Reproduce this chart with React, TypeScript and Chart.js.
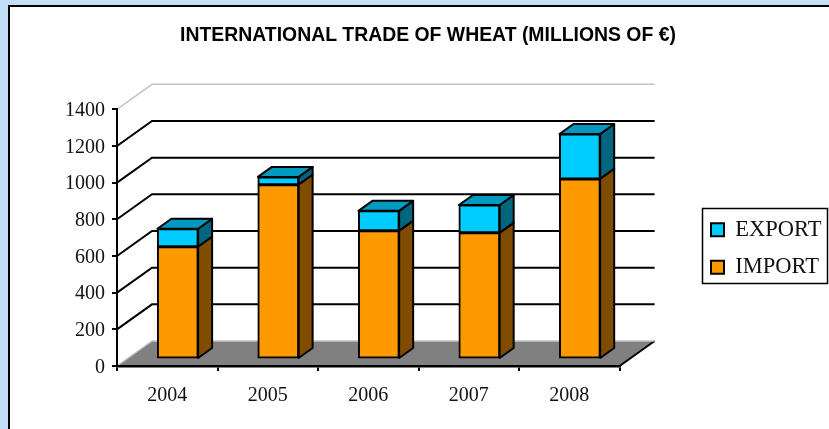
import React, { useEffect, useRef } from "react";
import { Chart, registerables } from "chart.js";

Chart.register(...registerables);

const categories = ["2004", "2005", "2006", "2007", "2008"];
const importValues = [612, 950, 699, 688, 982];
const exportValues = [98, 43, 109, 152, 245];
const yTicksMax = 1400;
const yStep = 200;

const WALL = { dx: 35, dy: -25 };
const BAR = { dx: 14, dy: -10, shiftX: 10.5, shiftY: -7 };
const SERIF = "'Liberation Serif', serif";

const shape3d = {
  id: "shape3d",
  afterLayout(chart: any) {
    const t = chart.titleBlock;
    t.left = 0;
    t.right = 856;
    const l = chart.legend;
    const w = l.width;
    const h = l.height;
    l.left = 696;
    l.right = 696 + w;
    const c = 248.5;
    l.top = c - h / 2;
    l.bottom = c + h / 2;
  },
  beforeDraw(chart: any) {
    const { ctx, chartArea: a, scales } = chart;
    const y = scales.y;
    ctx.save();
    // floor
    ctx.fillStyle = "#808080";
    ctx.beginPath();
    ctx.moveTo(a.left, a.bottom);
    ctx.lineTo(a.left + WALL.dx, a.bottom + WALL.dy);
    ctx.lineTo(a.right + WALL.dx, a.bottom + WALL.dy);
    ctx.lineTo(a.right, a.bottom);
    ctx.closePath();
    ctx.fill();
    // right floor edge
    ctx.strokeStyle = "#000";
    ctx.lineWidth = 2;
    ctx.beginPath();
    ctx.moveTo(a.right, a.bottom);
    ctx.lineTo(a.right + WALL.dx, a.bottom + WALL.dy);
    ctx.stroke();
    // wall grid
    for (const tick of y.ticks) {
      const py = y.getPixelForValue(tick.value);
      const edge = tick.value === 0 || tick.value === yTicksMax;
      ctx.strokeStyle = edge ? "#c4c4c4" : "#000";
      ctx.lineWidth = edge ? 1.5 : 2;
      ctx.beginPath();
      ctx.moveTo(a.left, py);
      ctx.lineTo(a.left + WALL.dx, py + WALL.dy);
      ctx.lineTo(a.right + WALL.dx, py + WALL.dy);
      ctx.stroke();
    }
    // legend frame
    ctx.strokeStyle = "#000";
    ctx.lineWidth = 1.5;
    ctx.strokeRect(702.5, 208.5, 125, 75);
    ctx.restore();
  },
  beforeDatasetDraw(chart: any, args: any) {
    const { ctx } = chart;
    ctx.save();
    ctx.translate(BAR.shiftX, BAR.shiftY);
    const ds = chart.data.datasets[args.index];
    const isTop = args.index === chart.data.datasets.length - 1;
    ctx.strokeStyle = "#000";
    ctx.lineWidth = 2;
    ctx.lineJoin = "round";
    for (const bar of args.meta.data) {
      const { x, y, base, width } = bar.getProps(["x", "y", "base", "width"], true);
      const r = x + width / 2;
      const l = x - width / 2;
      ctx.fillStyle = ds.sideColor;
      ctx.beginPath();
      ctx.moveTo(r, y);
      ctx.lineTo(r + BAR.dx, y + BAR.dy);
      ctx.lineTo(r + BAR.dx, base + BAR.dy);
      ctx.lineTo(r, base);
      ctx.closePath();
      ctx.fill();
      ctx.stroke();
      if (isTop) {
        ctx.fillStyle = ds.topColor;
        ctx.beginPath();
        ctx.moveTo(l, y);
        ctx.lineTo(l + BAR.dx, y + BAR.dy);
        ctx.lineTo(r + BAR.dx, y + BAR.dy);
        ctx.lineTo(r, y);
        ctx.closePath();
        ctx.fill();
        ctx.stroke();
      }
    }
  },
  afterDatasetDraw(chart: any) {
    chart.ctx.restore();
  },
};

export default function App() {
  const ref = useRef<HTMLCanvasElement>(null);
  useEffect(() => {
    const chart = new Chart(ref.current as HTMLCanvasElement, {
      type: "bar",
      data: {
        labels: categories,
        datasets: [
          {
            label: "IMPORT",
            data: importValues,
            backgroundColor: "#FF9900",
            borderColor: "#000",
            borderWidth: 2,
            borderSkipped: false,
            inflateAmount: 0.5,
            sideColor: "#804D00",
            topColor: "#BF7300",
            clip: false,
          } as any,
          {
            label: "EXPORT",
            data: exportValues,
            backgroundColor: "#00CCFF",
            borderColor: "#000",
            borderWidth: 2,
            borderSkipped: false,
            inflateAmount: 0.5,
            sideColor: "#006680",
            topColor: "#0099BF",
            clip: false,
          } as any,
        ],
      },
      options: {
        responsive: false,
        animation: false,
        locale: "en-US",
        layout: { padding: { left: 0, right: 74, top: 0, bottom: 0 } },
        datasets: { bar: { barPercentage: 0.405, categoryPercentage: 1 } },
        scales: {
          x: {
            stacked: true,
            afterFit: (s: any) => { s.height = 63; },
            grid: { drawOnChartArea: false, tickLength: 5, color: "#000", lineWidth: 2 },
            border: { color: "#000", width: 2.5 },
            ticks: { color: "#111", font: { family: SERIF, size: 20 }, padding: 13, maxRotation: 0 },
          },
          y: {
            stacked: true,
            min: 0,
            max: yTicksMax,
            afterFit: (s: any) => { s.width = 117; },
            grid: { drawOnChartArea: false, tickLength: 5, color: "#000", lineWidth: 2 },
            border: { color: "#000", width: 2 },
            ticks: {
              stepSize: yStep,
              color: "#111",
              font: { family: SERIF, size: 20 },
              padding: 7,
              labelOffset: 1.5,
              callback: (v: any) => String(v),
            },
          },
        },
        plugins: {
          tooltip: { enabled: false },
          title: {
            display: true,
            text: "INTERNATIONAL TRADE OF WHEAT (MILLIONS OF €)",
            color: "#000",
            font: { family: "'Liberation Sans', Arial, sans-serif", size: 19.4, weight: "bold" },
            padding: { top: 24, bottom: 62 },
          },
          legend: {
            display: true,
            position: "right",
            reverse: true,
            labels: {
              color: "#111",
              boxWidth: 13,
              boxHeight: 13,
              padding: 15,
              font: { family: SERIF, size: 22.5 },
            },
          },
        },
      },
      plugins: [shape3d],
    } as any);
    return () => chart.destroy();
  }, []);

  return (
    <div style={{ position: "fixed", inset: 0, background: "#C5DFF9", overflow: "hidden" }}>
      <div
        style={{
          position: "absolute",
          left: 8,
          top: 5,
          width: 900,
          height: 500,
          background: "#fff",
          border: "2.5px solid #000",
        }}
      />
      <canvas ref={ref} width={829} height={429} style={{ position: "absolute", left: 0, top: 0, display: "block" }} />
    </div>
  );
}
